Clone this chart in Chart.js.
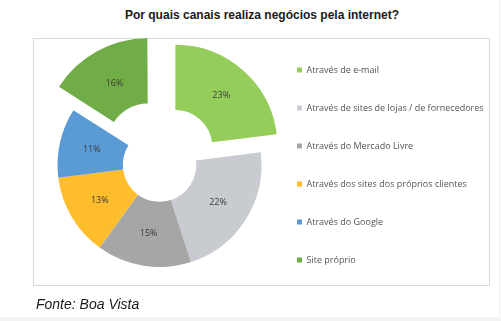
<!DOCTYPE html>
<html>
<head>
<meta charset="utf-8">
<script src="https://cdn.jsdelivr.net/npm/chart.js@4/dist/chart.umd.min.js"></script>
<style>
  html, body { margin: 0; padding: 0; background: #fff; }
  #wrap { position: relative; width: 501px; height: 321px; overflow: hidden; background: #fff; }
  #title { position: absolute; left: 0; top: 8px; width: 524px; text-align: center;
           font: bold 12px "Liberation Sans", Arial, sans-serif; color: #1a1a1a; }
  #box { position: absolute; left: 33px; top: 38px; width: 455px; height: 246px; border: 1px solid #d9d9d9; }
  #cv { position: absolute; left: 0; top: 20px; }
  #src { position: absolute; left: 36px; top: 296px; font: italic 14px "Liberation Sans", Arial, sans-serif; color: #1a1a1a; }
  #strip { position: absolute; left: 0; top: 317px; width: 501px; height: 4px; background: #f3f3f3; }
  #vline { position: absolute; left: 499px; top: 0; width: 1px; height: 317px; background: #eeeeee; }
</style>
</head>
<body>
<div id="wrap">
  <div id="title">Por quais canais realiza negócios pela internet?</div>
  <div id="box"></div>
  <canvas id="cv" width="501" height="290"></canvas>
  <div id="src">Fonte: Boa Vista</div>
  <div id="strip"></div>
  <div id="vline"></div>
</div>
<script>
const categories = [
  "Através de e-mail",
  "Através de sites de lojas / de fornecedores",
  "Através do Mercado Livre",
  "Através dos sites dos próprios clientes",
  "Através do Google",
  "Site próprio"
];
const values = [23, 22, 15, 13, 11, 16];
const valueLabels = ["23%", "22%", "15%", "13%", "11%", "16%"];
const colors = ["#95cd5a", "#c8cbd0", "#a6a6a6", "#fdbd2d", "#5b9bd5", "#70ad47"];
const explode = [96, 0, 0, 0, 0, 96];

const sliceLabels = {
  id: 'sliceLabels',
  afterDatasetsDraw(chart) {
    const ctx = chart.ctx;
    const meta = chart.getDatasetMeta(0);
    ctx.save();
    ctx.font = '9px "Open Sans", sans-serif';
    ctx.fillStyle = '#3a3a3a';
    ctx.textAlign = 'center';
    ctx.textBaseline = 'middle';
    meta.data.forEach((arc, i) => {
      const p = arc.getProps(['x','y','startAngle','endAngle','innerRadius','outerRadius'], true);
      const mid = (p.startAngle + p.endAngle) / 2;
      const r = (p.innerRadius + p.outerRadius) / 2;
      const off = (explode[i] || 0) / 4;
      const x = p.x + Math.cos(mid) * (r + off);
      const y = p.y + Math.sin(mid) * (r + off);
      ctx.fillText(valueLabels[i], x, y);
    });
    ctx.restore();
  }
};

new Chart(document.getElementById('cv'), {
  type: 'doughnut',
  data: {
    labels: categories,
    datasets: [{
      data: values,
      backgroundColor: colors,
      borderWidth: 0,
      offset: explode,
      hoverOffset: 0
    }]
  },
  options: {
    responsive: false,
    animation: false,
    radius: 102,
    cutout: '36%',
    layout: { padding: { top: 0, left: 51, right: 16, bottom: 0 } },
    plugins: {
      tooltip: { enabled: false },
      legend: {
        position: 'right',
        labels: {
          boxWidth: 5,
          boxHeight: 5,
          padding: 29,
          color: '#555555',
          font: { family: '"Open Sans", sans-serif', size: 9 }
        }
      }
    }
  },
  plugins: [sliceLabels]
});
</script>
</body>
</html>
